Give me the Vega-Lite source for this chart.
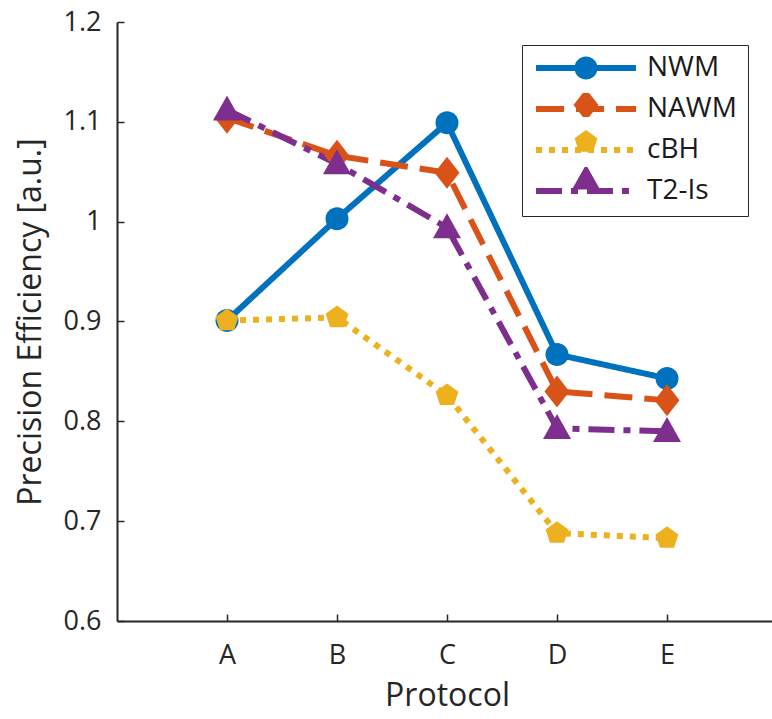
{
  "$schema": "https://vega.github.io/schema/vega-lite/v6.json",
  "width": 660,
  "height": 599,
  "autosize": {"type": "none"},
  "padding": {"left": 117, "top": 22, "right": 0, "bottom": 98},
  "config": {
    "font": "Open Sans",
    "view": {"stroke": null},
    "axis": {
      "domainColor": "#262626",
      "domainWidth": 2,
      "tickColor": "#262626",
      "tickWidth": 1.5,
      "tickSize": -7,
      "grid": false,
      "labelColor": "#262626",
      "labelFontSize": 27,
      "labelFont": "Open Sans",
      "titleColor": "#262626",
      "titleFont": "Open Sans",
      "titleFontSize": 32,
      "titleFontWeight": "normal"
    }
  },
  "data": {
    "values": [
      {"protocol": "A", "series": "NWM", "value": 0.901},
      {"protocol": "B", "series": "NWM", "value": 1.003},
      {"protocol": "C", "series": "NWM", "value": 1.099},
      {"protocol": "D", "series": "NWM", "value": 0.867},
      {"protocol": "E", "series": "NWM", "value": 0.843},
      {"protocol": "A", "series": "NAWM", "value": 1.104},
      {"protocol": "B", "series": "NAWM", "value": 1.066},
      {"protocol": "C", "series": "NAWM", "value": 1.049},
      {"protocol": "D", "series": "NAWM", "value": 0.83},
      {"protocol": "E", "series": "NAWM", "value": 0.821},
      {"protocol": "A", "series": "cBH", "value": 0.901},
      {"protocol": "B", "series": "cBH", "value": 0.904},
      {"protocol": "C", "series": "cBH", "value": 0.826},
      {"protocol": "D", "series": "cBH", "value": 0.688},
      {"protocol": "E", "series": "cBH", "value": 0.683},
      {"protocol": "A", "series": "T2-Is", "value": 1.112},
      {"protocol": "B", "series": "T2-Is", "value": 1.058},
      {"protocol": "C", "series": "T2-Is", "value": 0.994},
      {"protocol": "D", "series": "T2-Is", "value": 0.793},
      {"protocol": "E", "series": "T2-Is", "value": 0.79}
    ]
  },
  "encoding": {
    "x": {
      "field": "protocol",
      "type": "ordinal",
      "scale": {"type": "point", "padding": 1},
      "axis": {"title": "Protocol", "labelAngle": 0, "labelPadding": 28, "titlePadding": 12}
    },
    "y": {
      "field": "value",
      "type": "quantitative",
      "scale": {"domain": [0.6, 1.2]},
      "axis": {
        "title": "Precision Efficiency [a.u.]",
        "values": [0.6, 0.7, 0.8, 0.9, 1.0, 1.1, 1.2],
        "format": ".1~f",
        "labelPadding": 23,
        "titlePadding": 16
      }
    }
  },
  "layer": [
    {
      "mark": {"type": "line", "strokeWidth": 6},
      "encoding": {
        "color": {
          "field": "series",
          "type": "nominal",
          "scale": {"domain": ["NWM", "NAWM", "cBH", "T2-Is"], "range": ["#0072BD", "#D95319", "#EDB120", "#7E2F8E"]},
          "legend": {
            "title": null, "orient": "none", "legendX": 405, "legendY": 23,
            "symbolType": "stroke", "symbolSize": 10000, "symbolStrokeWidth": 6,
            "clipHeight": 24, "rowPadding": 13, "padding": 11,
            "labelFontSize": 28, "labelColor": "#1a1a1a", "labelOffset": 8,
            "labelExpr": "datum.label + '\u2003\u2002'",
            "strokeColor": "#262626"
          }
        },
        "strokeDash": {
          "field": "series",
          "type": "nominal",
          "scale": {"domain": ["NWM", "NAWM", "cBH", "T2-Is"], "range": [[1, 0], [28, 12], [6, 7], [26, 9, 7, 9]]},
          "legend": {
            "title": null, "orient": "none", "legendX": 405, "legendY": 23,
            "symbolType": "stroke", "symbolSize": 10000, "symbolStrokeWidth": 6,
            "clipHeight": 24, "rowPadding": 13, "padding": 11,
            "labelFontSize": 28, "labelColor": "#1a1a1a", "labelOffset": 8,
            "labelExpr": "datum.label + '\u2003\u2002'",
            "strokeColor": "#262626"
          }
        }
      }
    },
    {
      "mark": {"type": "point", "filled": true, "opacity": 1, "size": 1024},
      "encoding": {
        "color": {
          "field": "series",
          "type": "nominal",
          "legend": {
            "title": null, "orient": "none", "legendX": 405, "legendY": 23,
            "symbolSize": 1024, "symbolStrokeWidth": 0, "symbolOpacity": 1, "symbolOffset": 37,
            "clipHeight": 24, "rowPadding": 13, "padding": 11,
            "labelFontSize": 1, "labelExpr": "''"
          }
        },
        "shape": {
          "field": "series",
          "type": "nominal",
          "scale": {
            "domain": ["NWM", "NAWM", "cBH", "T2-Is"],
            "range": [
              "M-0.72,0A0.72,0.72 0 1,0 0.72,0A0.72,0.72 0 1,0 -0.72,0Z",
              "M-0.78,0L0,-1L0.78,0L0,1Z",
              "M0,-0.75L0.713,-0.232L0.441,0.607L-0.441,0.607L-0.713,-0.232Z",
              "M0,-0.9L0.875,0.66L-0.875,0.66Z"
            ]
          },
          "legend": {
            "title": null, "orient": "none", "legendX": 405, "legendY": 23,
            "symbolSize": 1024, "symbolStrokeWidth": 0, "symbolOpacity": 1, "symbolOffset": 37,
            "clipHeight": 24, "rowPadding": 13, "padding": 11,
            "labelFontSize": 1, "labelExpr": "''"
          }
        }
      }
    }
  ],
  "resolve": {"legend": {"color": "independent", "strokeDash": "independent", "shape": "independent"}}
}
